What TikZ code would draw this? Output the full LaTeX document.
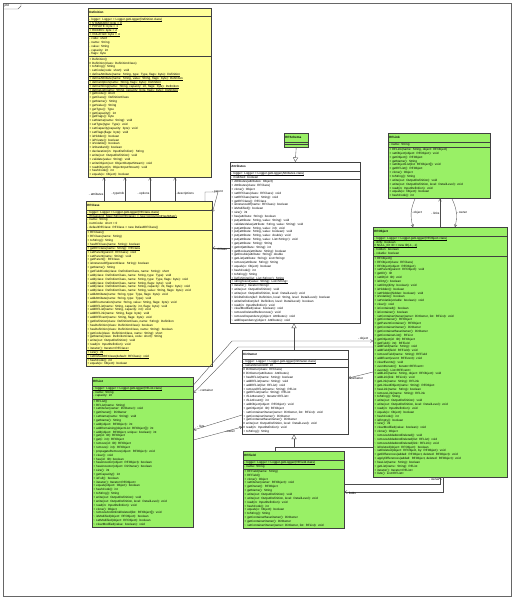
\documentclass[tikz,border=0pt]{standalone}
\usepackage{fontspec}
\newfontfamily\umlsans{Liberation Sans}
\usetikzlibrary{arrows.meta,positioning,shapes.multipart,calc}
\definecolor{umlyellow}{HTML}{FFFF99}
\definecolor{umlgreen}{HTML}{99F066}
\newcommand{\umlfont}{\umlsans\fontsize{3.05}{3.85}\selectfont}
\newcommand{\umltitle}[1]{\centering\rule[-1.8pt]{0pt}{6pt}\textbf{#1}}
\newcommand{\st}[1]{\leavevmode\setbox0=\hbox{#1}\rlap{\rule[-0.5pt]{\wd0}{0.15pt}}\box0}
\newcommand{\pk}{\textasciitilde\ }
\tikzset{
  uml/class/.style={draw=black!75, line width=0.5pt, rectangle split, rectangle split parts=3, text width=#1, inner xsep=1.2pt, inner ysep=1pt, align=left, font=\umlfont, anchor=north west},
  uml/yellow/.style={uml/class=#1, fill=umlyellow},
  uml/green/.style={uml/class=#1, fill=umlgreen},
  uml/white/.style={uml/class=#1, fill=white},
  uml/line/.style={draw=black!70, line width=0.35pt},
  uml/assoc/.style={uml/line, -{Straight Barb[length=2.2pt,width=3pt]}},
  uml/extends/.style={uml/line, -{Triangle[open,length=4.5pt,width=5pt]}},
  uml/role/.style={font=\umlfont, inner sep=0.5pt}
}

\begin{document}
\begin{tikzpicture}[x=1pt,y=-1pt]
  \useasboundingbox (0,0) rectangle (517,599);
  % package frame
  \draw[black!60, line width=0.4pt] (3,3) rectangle (511,596);
  \draw[black!60, line width=0.4pt] (3,9) -- (18,9) -- (21,6) -- (21,3);
  \node[uml/role, anchor=west] (pkg) at (4,6) {pfd};

  % schema definitions
  \node[uml/yellow=120.6pt] (def) at (88,8) {\umltitle{Definition}
    \nodepart{two}
    \st{- logger: Logger = Logger.getLogger(Definition.class)}\\
    \st{+ STANDARD: byte = 0}\\
    \st{+ PRIVATE: byte = 1}\\
    \st{+ HIDDEN: byte = 2}\\
    \st{+ VOLATILE: byte = 4}\\
    - code: short\\
    - name: String\\
    - value: String\\
    - capacity: int\\
    - flags: byte
    \nodepart{three}
    + Definition()\\
    \# Definition(class: DefinitionClass)\\
    + toString(): String\\
    \pk setCode(code: short): void\\
    \st{+ defineAttribute(name: String, type: Type, flags: byte): Definition}\\
    \st{+ defineAttribute(name: String, value: String, flags: byte): Definition}\\
    \st{+ defineOption(name: String, flags: byte): Definition}\\
    \st{+ defineString(name: String, capacity: int, flags: byte): Definition}\\
    \st{+ defineList(name: String, capacity: byte, flags: byte): Definition}\\
    + getCode(): short\\
    + getClass(): DefinitionClass\\
    + getName(): String\\
    + getValue(): String\\
    + getType(): Type\\
    + getCapacity(): int\\
    + getFlags(): byte\\
    + setName(name: String): void\\
    + setType(type: Type): void\\
    + setCapacity(capacity: byte): void\\
    + setFlags(flags: byte): void\\
    + isHidden(): boolean\\
    + isPrivate(): boolean\\
    + isVolatile(): boolean\\
    + isStandard(): boolean\\
    + declaration(in: InputDefinition): String\\
    + write(out: OutputDefinition): void\\
    + validate(value: String): void\\
    + writeObject(out: ObjectOutputStream): void\\
    + readObject(in: ObjectInputStream): void\\
    + hashCode(): int\\
    + equals(o: Object): boolean};

  \node[uml/yellow=123.6pt] (rfclass) at (86,201) {\umltitle{RFClass}
    \nodepart{two}
    \st{- logger: Logger = Logger.getLogger(RFClass.class)}\\
    \st{- rfClassList: Map<String,RFClass> = new ConcurrentHashMap()}\\
    - name: String\\
    - numCode: short = 0\\
    - defaultRFClass: RFClass = new DefaultRFClass()
    \nodepart{three}
    + RFClass()\\
    + RFClass(name: String)\\
    + toString(): String\\
    \st{+ hasRFClass(name: String): boolean}\\
    \st{+ getRFClass(name: String): RFClass}\\
    + setParent(parent: RFClass): void\\
    + setParent(name: String): void\\
    + getParent(): RFClass\\
    + isInstanceOf(parentClass: String): boolean\\
    + getName(): String\\
    + getFieldCode(class: DefinitionClass, name: String): short\\
    + add(class: DefinitionClass, name: String, type: Type): void\\
    + add(class: DefinitionClass, name: String, type: Type, flags: byte): void\\
    + add(class: DefinitionClass, name: String, flags: byte): void\\
    + add(class: DefinitionClass, name: String, capacity: int, flags: byte): void\\
    + add(class: DefinitionClass, name: String, value: String, flags: byte): void\\
    + addAttribute(name: String, type: Type, flags: byte): void\\
    + addAttribute(name: String, type: Type): void\\
    + addEnumeration(name: String, value: String, flags: byte): void\\
    + addRFList(name: String, capacity: int, flags: byte): void\\
    + addRFList(name: String, capacity: int): void\\
    + addRFLink(name: String, flags: byte): void\\
    + addRFEvent(name: String, flags: byte): void\\
    + getDefinition(class: DefinitionClass, name: String): Definition\\
    \pk hasDefinition(class: DefinitionClass): boolean\\
    + hasDefinition(class: DefinitionClass, name: String): boolean\\
    + getCode(class: DefinitionClass, name: String): short\\
    + getName(class: DefinitionClass, code: short): String\\
    + write(out: OutputDefinition): void\\
    + read(in: InputDefinition): void\\
    \st{+ iterator(): Iterator<RFClass>}\\
    \st{+ size(): int}\\
    \st{+ setDefaultRFClass(default: RFClass): void}\\
    + hashCode(): int\\
    + equals(o: Object): boolean};

  \node[uml/green=98.6pt] (rflist) at (92,377) {\umltitle{RFList}
    \nodepart{two}
    \st{- logger: Logger = Logger.getLogger(RFList.class)}\\
    - name: String\\
    - capacity: int
    \nodepart{three}
    + RFList()\\
    + RFList(name: String)\\
    + setOwner(owner: DirOwner): void\\
    + getOwner(): DirOwner\\
    + setName(name: String): void\\
    + getName(): String\\
    + add(object: RFObject): int\\
    + addRemaining(objectList: RFObject[]): int\\
    + add(object: RFObject, unique: boolean): int\\
    + get(id: ID): RFObject\\
    + get(i: int): RFObject\\
    + remove(id: ID): RFObject\\
    + remove(i: int): RFObject\\
    \pk propagateRemove(object: RFObject): void\\
    + clear(): void\\
    + has(id: ID): boolean\\
    + hasAncestor(object: RFObject): boolean\\
    + hasAncestor(object: DirOwner): boolean\\
    + size(): int\\
    + getCapacity(): int\\
    + isFull(): boolean\\
    + iterator(): Iterator<RFObject>\\
    + equals(object: Object): boolean\\
    + hashCode(): int\\
    + toString(): String\\
    + write(out: OutputDefinition): void\\
    + write(out: OutputDefinition, level: DetailLevel): void\\
    + read(in: InputDefinition): void\\
    + clone(): Object\\
    \pk removeAndUnlinkDeleted(list: RFObject[]): void\\
    \pk isModified(object: RFObject): boolean\\
    \pk setModified(object: RFObject): boolean\\
    \pk clearModified(value: boolean): void};

  % object model
  \node[uml/green=21.6pt] (schema) at (284,133) {\umltitle{RFSchema}
    \nodepart{two} \nodepart{three}};

  \node[uml/white=127.6pt] (attrs) at (230,162) {\umltitle{Attributes}
    \nodepart{two}
    \st{- logger: Logger = Logger.getLogger(Attributes.class)}\\
    - modified: boolean
    \nodepart{three}
    + Attributes(attributes: Object)\\
    + Attributes(class: RFClass)\\
    + clone(): Object\\
    + setRFClass(class: RFClass): void\\
    + setRFClass(name: String): void\\
    + getRFClass(): RFClass\\
    + isInstanceOf(name: RFClass): boolean\\
    + isModified(): boolean\\
    + size(): int\\
    + has(attribute: String): boolean\\
    + put(attribute: String, value: String): void\\
    \pk validateValue(attribute: String, value: String): void\\
    + put(attribute: String, value: int): void\\
    + put(attribute: String, value: boolean): void\\
    + put(attribute: String, value: double): void\\
    + put(attribute: String, value: List<String>): void\\
    + get(attribute: String): String\\
    + getInt(attribute: String): int\\
    + getBoolean(attribute: String): boolean\\
    + getDouble(attribute: String): double\\
    + getList(attribute: String): List<String>\\
    + remove(attribute: String): String\\
    + equals(o: Object): boolean\\
    + hashCode(): int\\
    + toString(): String\\
    \st{+ listToString(list: List<String>): String}\\
    \st{+ stringToList(value: String): List<String>}\\
    + iterator(): Iterator<String>\\
    + write(out: OutputDefinition): void\\
    + write(out: OutputDefinition, level: DetailLevel): void\\
    + linkDefinition(def: Definition, local: String, level: DetailLevel): boolean\\
    + writeDefinition(def: Definition, level: DetailLevel): boolean\\
    + read(in: InputDefinition): void\\
    \pk clearModified(value: boolean): void\\
    \pk removeDeletedReferences(): void\\
    \pk removeDependency(object: Attributes): void\\
    \pk addDependency(object: Attributes): void};

  \node[uml/white=103.6pt] (dirown) at (242,350) {\umltitle{DirOwner}
    \nodepart{two}
    \st{- logger: Logger = Logger.getLogger(DirOwner.class)}\\
    - serialVersionUID: int
    \nodepart{three}
    \# DirOwner(class: RFClass)\\
    \# DirOwner(attributes: Attributes)\\
    + hasRFList(name: String): boolean\\
    + addRFList(name: String): void\\
    + addRFList(list: RFList): void\\
    + removeRFList(name: String): RFList\\
    + getRFList(name: String): RFList\\
    + rfListIterator(): Iterator<RFList>\\
    + rfListCount(): int\\
    + addObject(object: RFObject): void\\
    + getObject(id: ID): RFObject\\
    \pk setContainerOwner(owner: DirOwner, list: RFList): void\\
    + getContainerOwner(): DirOwner\\
    + getContainerBaseOwner(): DirOwner\\
    \# write(out: OutputDefinition, level: DetailLevel): void\\
    \# read(in: InputDefinition): void\\
    + toString(): String};

  \node[uml/green=98.6pt] (rffield) at (243,451) {\umltitle{RFField}
    \nodepart{two}
    \st{- logger: Logger = Logger.getLogger(RFField.class)}\\
    - name: String
    \nodepart{three}
    + RFField(name: String)\\
    + RFField()\\
    + clone(): Object\\
    + setOwner(owner: RFObject): void\\
    + getOwner(): RFObject\\
    + getName(): String\\
    + write(out: OutputDefinition): void\\
    + write(out: OutputDefinition, level: DetailLevel): void\\
    + read(in: InputDefinition): void\\
    + hashCode(): int\\
    + equals(o: Object): boolean\\
    + toString(): String\\
    + getContainerBaseOwner(): DirOwner\\
    + getContainerOwner(): DirOwner\\
    \pk setContainerOwner(owner: DirOwner, list: RFList): void};

  \node[uml/green=99.6pt] (rflink) at (388,133) {\umltitle{RFLink}
    \nodepart{two}
    - name: String
    \nodepart{three}
    + RFLink(name: String, object: RFObject)\\
    + setObject(object: RFObject): void\\
    + getObject(): RFObject\\
    + getName(): String\\
    + setObjectList(list: RFObject[]): void\\
    + getRFList(): RFObject\\
    + clone(): Object\\
    + toString(): String\\
    + write(out: OutputDefinition): void\\
    + write(out: OutputDefinition, level: DetailLevel): void\\
    + read(in: InputDefinition): void\\
    + equals(o: Object): boolean\\
    + hashCode(): int};

  \node[uml/green=131.6pt] (rfobj) at (373,227) {\umltitle{RFObject}
    \nodepart{two}
    \st{- logger: Logger = Logger.getLogger(RFObject.class)}\\
    - dirty: boolean\\
    \st{\# NULL\_ID: ID = new ID(-1, -1)}\\
    - hidden: boolean\\
    - volatile: boolean
    \nodepart{three}
    + RFObject()\\
    + RFObject(class: RFClass)\\
    + RFObject(object: RFObject)\\
    + setParent(parent: RFObject): void\\
    + getID(): ID\\
    + setID(id: ID): void\\
    + isDirty(): boolean\\
    + setDirty(dirty: boolean): void\\
    + isHidden(): boolean\\
    + setHidden(hidden: boolean): void\\
    + isVolatile(): boolean\\
    + setVolatile(volatile: boolean): void\\
    + clear(): void\\
    + isContained(): boolean\\
    + isContainer(): boolean\\
    \pk setContainerOwner(owner: DirOwner, list: RFList): void\\
    + getContainer(): RFObject\\
    + getParentContainer(): RFObject\\
    + getContainerOwner(): DirOwner\\
    + getContainerBaseOwner(): DirOwner\\
    + getContainerList(): RFList\\
    + getObject(id: ID): RFObject\\
    + getField(i: int): RFField\\
    + addField(name: String): void\\
    + addField(field: RFField): void\\
    + removeField(name: String): RFField\\
    + addEvent(event: RFEvent): void\\
    + clearEvents(): void\\
    + eventIterator(): Iterator<RFEvent>\\
    + events(): List<RFEvent>\\
    + addLink(name: String, object: RFObject): void\\
    + addLink(link: RFLink): void\\
    + getLink(name: String): RFLink\\
    + getLinkedObject(name: String): RFObject\\
    + hasLink(name: String): boolean\\
    + removeLink(name: String): RFLink\\
    + toString(): String\\
    + write(out: OutputDefinition): void\\
    + write(out: OutputDefinition, level: DetailLevel): void\\
    + read(in: InputDefinition): void\\
    + equals(o: Object): boolean\\
    + hashCode(): int\\
    + isEmpty(): boolean\\
    + size(): int\\
    + clearModified(value: boolean): void\\
    + clone(): Object\\
    \pk removeAddedAndDeleted(): void\\
    \pk removeAddedAndDeleted(list: RFList): void\\
    \pk removeAddedAndDeleted(link: RFLink): void\\
    \pk isDeleted(object: RFObject): boolean\\
    \pk setDeleted(object: RFObject, by: RFObject): void\\
    + getDifferences(added: RFObject, deleted: RFObject): void\\
    + applyDifferences(added: RFObject, deleted: RFObject): void\\
    + hasList(name: String): boolean\\
    + getList(name: String): RFList\\
    + iterator(): Iterator<RFList>\\
    + lists(): List<RFList>};

  % associations to the definitions
  \draw[uml/assoc] (rfclass.north -| 104,0) -- (def.south -| 104,0) node[uml/role, pos=0.3, left] {- attributes};
  \draw[uml/assoc] (rfclass.north -| 125,0) -- (def.south -| 125,0) node[uml/role, pos=0.3, left] {- typeInfo};
  \draw[uml/assoc] (rfclass.north -| 150,0) -- (def.south -| 150,0) node[uml/role, pos=0.3, left] {- options};
  \draw[uml/assoc] (rfclass.north -| 175,0) -- (def.south -| 175,0) node[uml/role, pos=0.3, right] {- descriptions};
  \draw[uml/assoc] (rfclass.north -| 205,0) -- (205,192) -- (218,192) -- (rfclass.east |- 0,212) node[uml/role, pos=0.1, above] {- parent};
  \draw[uml/assoc] (attrs.west |- 0,248) -- (rfclass.east |- 0,248) node[uml/role, pos=0.5, below] {- rfClass};

  % inheritance
  \draw[uml/extends] (schema.south) -- (attrs.north);
  \draw[uml/extends] (dirown.north -| 294,0) -- (attrs.south -| 294,0);
  \coordinate (bar) at (294,447);
  \draw[uml/extends] (rffield.north -| 275,0) -- (275,447) -- (bar) -- (dirown.south -| bar);
  \draw[uml/line] (rfobj.west |- bar) -- (bar);

  % lists and owners
  \draw[uml/assoc] ([yshift=-8pt]rflist.north east) -- (232,341) -- (rfobj.west |- 0,341) node[uml/role, pos=0.93, above] {- object};
  \draw[uml/assoc] (rfobj.west |- 0,347) -- (238,347) -- ([yshift=-16pt]rflist.north east) node[uml/role, pos=0.9, below right] {- container};
  \draw[uml/assoc] (dirown.west |- 0,415) -- ([yshift=-53pt]rflist.north east) node[uml/role, pos=0.85, above] {- lists};
  \draw[uml/assoc] ([yshift=-63pt]rflist.north east) -- (dirown.west |- 0,427) node[uml/role, pos=0.75, below] {- owner};
  \draw[uml/assoc] (rfobj.west |- 0,372) -- (dirown.east |- 0,378) node[uml/role, pos=0.7, below] {- container};
  \draw[uml/assoc] (rffield.east |- 0,484) -- (440,484) -- (rfobj.south -| 440,0) node[uml/role, pos=0.4, above left] {- owner};
  \draw[uml/assoc] (rfobj.south -| 443,0) -- (443,492) -- (rffield.east |- 0,492) node[uml/role, pos=0.93, below] {- fields};

  % links
  \draw[uml/assoc] (rflink.south -| 415,0) to[bend right=20] node[uml/role, right] {- object} (rfobj.north -| 413,0);
  \draw[uml/assoc] (rfobj.north -| 440,0) -- (rflink.south -| 440,0) node[uml/role, pos=0.5, left] {- links};
  \draw[uml/assoc] (rflink.south -| 452,0) to[bend left=20] node[uml/role, right] {- owner} (rfobj.north -| 455,0);
\end{tikzpicture}
\end{document}
